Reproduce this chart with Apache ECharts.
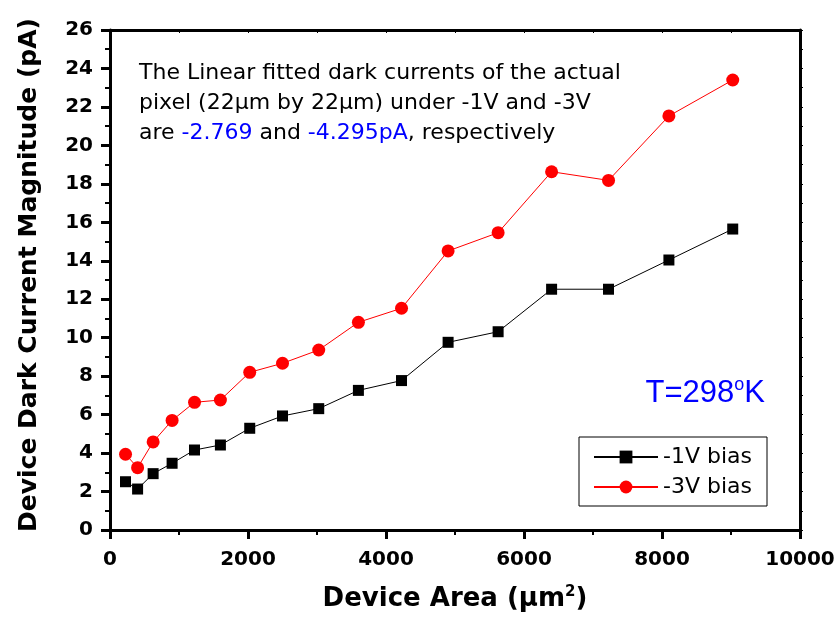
<!DOCTYPE html>
<html>
<head>
<meta charset="utf-8">
<script src="https://cdn.jsdelivr.net/npm/echarts@6/dist/echarts.min.js"></script>
<style>
  html, body { margin: 0; padding: 0; background: #fff; }
  #chart { width: 839px; height: 624px; }
</style>
</head>
<body>
<div id="chart"></div>
<script>
// device area (um^2) = side^2, 15um .. 95um
const areas = [225, 400, 625, 900, 1225, 1600, 2025, 2500, 3025, 3600, 4225, 4900, 5625, 6400, 7225, 8100, 9025]
// dark current magnitude (pA)
const bias1V = [2.51, 2.13, 2.93, 3.47, 4.16, 4.42, 5.29, 5.93, 6.31, 7.26, 7.77, 9.76, 10.31, 12.52, 12.52, 14.04, 15.65]
const bias3V = [3.94, 3.24, 4.58, 5.70, 6.64, 6.76, 8.20, 8.67, 9.36, 10.80, 11.53, 14.51, 15.46, 18.63, 18.18, 21.53, 23.40]
const seriesNames = ['-1V bias', '-3V bias']

const FONT = '"DejaVu Sans", sans-serif'
const ARIAL = '"Liberation Sans", Arial, sans-serif'

const pairs = (xs, ys) => xs.map((x, i) => [x, ys[i]])

const chart = echarts.init(document.getElementById('chart'))

const option = {
  animation: false,
  backgroundColor: '#fff',
  textStyle: { fontFamily: FONT },
  grid: { left: 110, right: 39, top: 30, bottom: 94 },
  legend: {
    orient: 'vertical',
    right: 72,
    top: 437,
    padding: [9, 15, 8, 14],
    itemGap: 8,
    itemWidth: 64,
    itemHeight: 16,
    borderColor: '#000',
    borderWidth: 1,
    borderRadius: 0,
    textStyle: { fontFamily: FONT, fontSize: 22, color: '#000' },
    data: seriesNames
  },
  xAxis: [
    {
      type: 'value',
      min: 0,
      max: 10000,
      interval: 2000,
      name: 'Device Area ({i|μ}m{s|2})',
      nameLocation: 'middle',
      nameGap: 55,
      nameTextStyle: {
        fontFamily: FONT, fontSize: 26, fontWeight: 'bold', color: '#000',
        rich: {
          i: { fontFamily: FONT, fontSize: 26, fontWeight: 'bold', color: '#000' },
          s: { fontFamily: FONT, fontSize: 15, fontWeight: 'bold', color: '#000', verticalAlign: 'top', padding: [0, 0, 14, 0] }
        }
      },
      axisLine: { onZero: false, lineStyle: { color: '#000', width: 3 } },
      axisTick: { inside: false, length: 9, lineStyle: { color: '#000', width: 3 } },
      minorTick: { show: true, splitNumber: 2, length: 5, lineStyle: { color: '#000', width: 2 } },
      axisLabel: {
        fontFamily: FONT, fontSize: 20, fontWeight: 'bold', color: '#000', margin: 20,
        formatter: v => String(v)
      },
      splitLine: { show: false }
    },
    {
      type: 'value',
      position: 'top',
      min: 0,
      max: 10000,
      interval: 1000,
      axisLine: { onZero: false, lineStyle: { color: '#000', width: 3 } },
      axisTick: { inside: true, length: 3, lineStyle: { color: '#000', width: 1 } },
      axisLabel: { show: false },
      splitLine: { show: false }
    }
  ],
  yAxis: [
    {
      type: 'value',
      min: 0,
      max: 26,
      interval: 2,
      axisLine: { onZero: false, lineStyle: { color: '#000', width: 3 } },
      axisTick: { inside: false, length: 9, lineStyle: { color: '#000', width: 3 } },
      minorTick: { show: true, splitNumber: 2, length: 5, lineStyle: { color: '#000', width: 2 } },
      axisLabel: {
        fontFamily: FONT, fontSize: 20, fontWeight: 'bold', color: '#000', margin: 17,
        formatter: v => String(v)
      },
      splitLine: { show: false }
    },
    {
      type: 'value',
      position: 'right',
      min: 0,
      max: 26,
      interval: 1,
      axisLine: { onZero: false, lineStyle: { color: '#000', width: 3 } },
      axisTick: { inside: false, length: 3, lineStyle: { color: '#000', width: 1 } },
      axisLabel: { show: false },
      splitLine: { show: false }
    }
  ],
  series: [
    {
      name: seriesNames[0],
      type: 'line',
      xAxisIndex: 0,
      yAxisIndex: 0,
      data: pairs(areas, bias1V),
      symbol: 'rect',
      symbolSize: 11,
      itemStyle: { color: '#000' },
      lineStyle: { color: '#000', width: 1 }
    },
    {
      name: seriesNames[1],
      type: 'line',
      xAxisIndex: 0,
      yAxisIndex: 0,
      data: pairs(areas, bias3V),
      symbol: 'circle',
      symbolSize: 13,
      itemStyle: { color: '#ff0000' },
      lineStyle: { color: '#ff0000', width: 1 }
    }
  ],
  graphic: [
    {
      type: 'text',
      x: 29,
      y: 275,
      rotation: Math.PI / 2,
      style: {
        text: 'Device Dark Current Magnitude (pA)',
        fontFamily: FONT,
        fontSize: 25,
        fontWeight: 'bold',
        fill: '#000',
        align: 'center',
        verticalAlign: 'middle'
      }
    },
    {
      type: 'text',
      left: 139,
      top: 58,
      style: {
        text: 'The Linear fitted dark currents of the actual\npixel (22μm by 22μm) under -1V and -3V\nare {b|-2.769} and {b|-4.295pA}, respectively',
        fontFamily: FONT,
        fontSize: 22,
        lineHeight: 30,
        fill: '#000',
        rich: {
          b: { fontFamily: FONT, fontSize: 22, fill: '#0000ff', color: '#0000ff' }
        }
      }
    },
    {
      type: 'text',
      right: 74,
      top: 376,
      style: {
        text: 'T=298{s|o}K',
        fontFamily: ARIAL,
        fontSize: 31,
        fill: '#0000ff',
        rich: {
          s: { fontFamily: ARIAL, fontSize: 18, fill: '#0000ff', color: '#0000ff', verticalAlign: 'top', padding: [0, 0, 16, 0] }
        }
      }
    }
  ]
}

chart.setOption(option)
</script>
</body>
</html>
